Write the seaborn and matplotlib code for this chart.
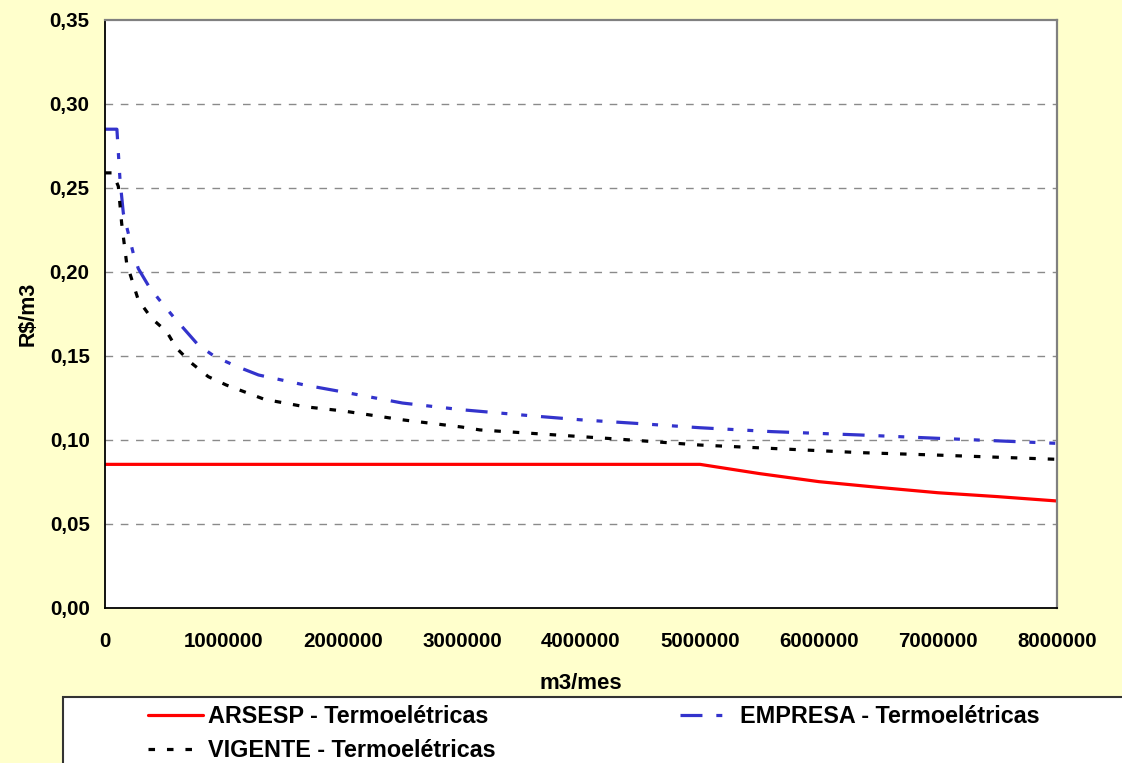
import matplotlib
matplotlib.use("Agg")
import matplotlib.pyplot as plt
from matplotlib.patches import Rectangle
from matplotlib.font_manager import FontProperties
from matplotlib.ticker import FuncFormatter
import seaborn as sns
import pandas as pd

# Tariff curves (R$/m3) against monthly volume (m3/mes)
arsesp_vol = [0, 5000000, 5500000, 6000000, 6500000, 7000000, 7500000, 8000000]
arsesp_val = [0.0855, 0.0855, 0.0800, 0.0752, 0.0718, 0.0686, 0.0663, 0.0637]

empresa_vol = [0, 100000, 126000, 154000, 238000, 280000, 364000, 450000, 574000,
               784000, 924000, 1100000, 1290000, 1680000, 2000000, 2500000,
               3000000, 3600000, 4000000, 4440000, 5000000, 5600000, 6340000,
               7000000, 8000000]
empresa_val = [0.285, 0.285, 0.255, 0.235, 0.211, 0.202, 0.192, 0.184, 0.1734,
               0.1565, 0.1496, 0.1440, 0.1387, 0.1327, 0.1286, 0.1220,
               0.1180, 0.1143, 0.1120, 0.1100, 0.1073, 0.1050, 0.1030,
               0.1010, 0.0980]

vigente_vol = [0, 65000, 112000, 140000, 182000, 280000, 392000, 518000, 602000,
               728000, 868000, 1020000, 1340000, 1680000, 2000000, 2500000,
               3000000, 3150000, 4300000, 5000000, 5600000, 6340000, 7000000,
               8000000]
vigente_val = [0.259, 0.259, 0.251, 0.229, 0.2052, 0.1833, 0.1724, 0.1645, 0.1546,
               0.1457, 0.1377, 0.1327, 0.1242, 0.1198, 0.1173, 0.1120,
               0.1077, 0.1060, 0.1006, 0.0970, 0.0950, 0.0925, 0.0910,
               0.0885]

labels = ["ARSESP - Termoelétricas", "EMPRESA - Termoelétricas", "VIGENTE - Termoelétricas"]
y_ticks = [0.00, 0.05, 0.10, 0.15, 0.20, 0.25, 0.30, 0.35]
x_ticks = [0, 1000000, 2000000, 3000000, 4000000, 5000000, 6000000, 7000000, 8000000]

sns.set_style("white")
plt.rcParams["font.family"] = ["Liberation Sans", "DejaVu Sans"]
plt.rcParams["font.weight"] = "bold"
plt.rcParams["lines.scale_dashes"] = False
for key in ("text.color", "axes.labelcolor", "xtick.labelcolor", "ytick.labelcolor"):
    plt.rcParams[key] = "black"

BG = "#FFFFCC"
fig = plt.figure(figsize=(11.22, 7.63), dpi=100, facecolor=BG)
W, H = 1122, 763
ax = fig.add_axes([105 / W, 1 - 608 / H, (1057 - 105) / W, (608 - 20) / H])
ax.set_facecolor("white")

frames = [
    pd.DataFrame({"vol": arsesp_vol, "val": arsesp_val}),
    pd.DataFrame({"vol": empresa_vol, "val": empresa_val}),
    pd.DataFrame({"vol": vigente_vol, "val": vigente_val}),
]
colors = ["#FF0000", "#3333CC", "#000000"]
styles = ["-", (0, (15.8, 10, 4.3, 10, 4.3, 10)), (0, (4.7, 8.6))]
widths = [2.3, 2.3, 2.3]

for df, lab, c, ls, lw in zip(frames, labels, colors, styles, widths):
    sns.lineplot(data=df, x="vol", y="val", ax=ax, color=c, linestyle=ls,
                 linewidth=lw, label=lab, estimator=None, sort=False)

ax.set_xlim(0, 8000000)
ax.set_ylim(0, 0.35)
ax.set_xticks(x_ticks)
ax.set_yticks(y_ticks)
ax.xaxis.set_major_formatter(FuncFormatter(lambda v, p: f"{int(round(v))}"))
ax.yaxis.set_major_formatter(FuncFormatter(lambda v, p: f"{v:.2f}".replace(".", ",")))

for yv in y_ticks[1:-1]:
    ax.axhline(yv, color="#8a8a8a", linewidth=1.0, linestyle=(0, (5.5, 5.5)), zorder=0.5)

for side in ("top", "right"):
    ax.spines[side].set_color("#808080")
    ax.spines[side].set_linewidth(1.6)
for side in ("left", "bottom"):
    ax.spines[side].set_color("#000000")
    ax.spines[side].set_linewidth(1.3)

ax.tick_params(axis="both", direction="out", length=5, width=1.2, color="#555555",
               labelsize=14.8, labelcolor="black")
ax.tick_params(axis="y", pad=6)
ax.tick_params(axis="x", pad=12)
for t in ax.get_xticklabels() + ax.get_yticklabels():
    t.set_fontweight("bold")

ax.set_xlabel("m3/mes", fontsize=16, fontweight="bold", labelpad=16, color="black")
ax.set_ylabel("R$/m3", fontsize=15.5, fontweight="bold", labelpad=8, color="black")

handles, hl = ax.get_legend_handles_labels()
ax.get_legend().remove()

# Legend frame below the plot area
fig.add_artist(Rectangle((63 / W, -0.01), (W + 10 - 63) / W, 1 - 697 / H + 0.01,
                         transform=fig.transFigure, facecolor="white",
                         edgecolor="#333333", linewidth=1.5, zorder=1))

leg_font = FontProperties(family=["Liberation Sans", "DejaVu Sans"], weight="bold", size=16.8)
leg_kw = dict(frameon=False, loc="upper left", borderpad=0, borderaxespad=0,
              handlelength=2.35, handletextpad=0.2, labelspacing=0.48,
              prop=leg_font)
leg1 = fig.legend([handles[0], handles[2]], [hl[0], hl[2]],
                  bbox_to_anchor=(148 / W, 1 - 705 / H), **leg_kw)
leg2 = fig.legend([handles[1]], [hl[1]],
                  bbox_to_anchor=(680 / W, 1 - 705 / H), **leg_kw)
for leg in (leg1, leg2):
    leg.set_zorder(2)
    for t in leg.get_texts():
        t.set_fontweight("bold")
        t.set_color("black")

fig.savefig("out.png", dpi=100, facecolor=BG)
